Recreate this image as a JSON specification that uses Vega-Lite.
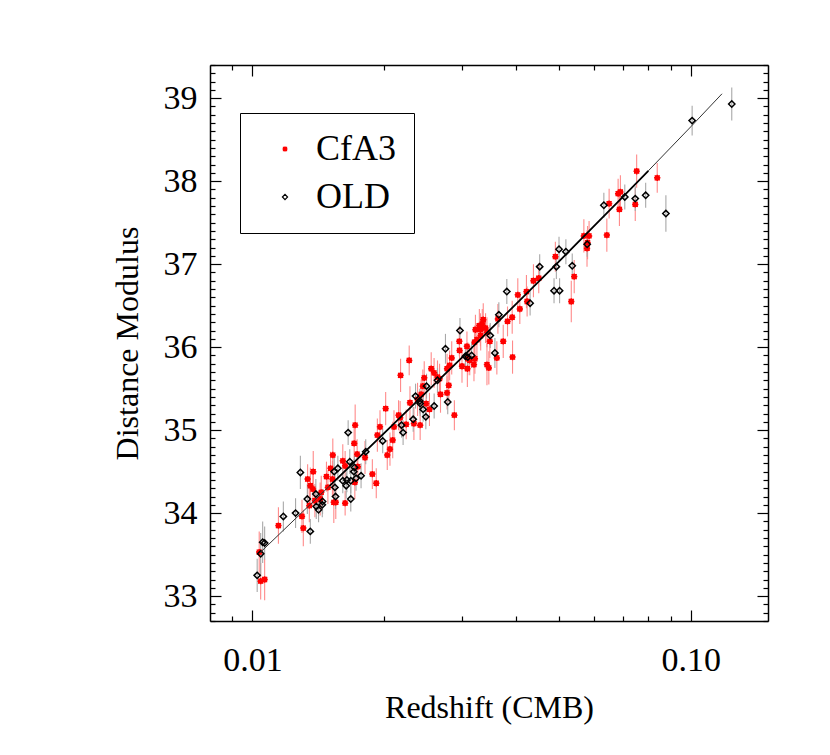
{
  "$schema": "https://vega.github.io/schema/vega-lite/v6.json",
  "width": 558,
  "height": 556,
  "autosize": {"type": "none"},
  "padding": {"left": 210, "top": 65, "right": 62, "bottom": 134},
  "background": "white",
  "config": {
    "font": "Liberation Serif",
    "view": {"stroke": null},
    "axis": {"grid": false, "domainColor": "#000000", "domainWidth": 1.5, "tickColor": "#000000", "tickWidth": 1.2, "labelColor": "#000000", "labelFont": "Liberation Serif", "labelFontSize": 34, "titleFont": "Liberation Serif", "titleFontSize": 32, "titleFontWeight": "normal", "titleColor": "#000000", "labelOverlap": false, "labelFlush": false},
    "legend": {"labelFont": "Liberation Serif"}
  },
  "datasets": {
    "sn": [
      {"series":"CfA3","z":0.01036,"mu":33.53,"err":0.25},{"series":"CfA3","z":0.01044,"mu":33.18,"err":0.22},{"series":"CfA3","z":0.01066,"mu":33.20,"err":0.25},{"series":"CfA3","z":0.01146,"mu":33.85,"err":0.22},{"series":"CfA3","z":0.01297,"mu":33.96,"err":0.2},{"series":"CfA3","z":0.01306,"mu":33.82,"err":0.22},{"series":"CfA3","z":0.01336,"mu":34.41,"err":0.18},{"series":"CfA3","z":0.01348,"mu":34.09,"err":0.2},{"series":"CfA3","z":0.01355,"mu":34.33,"err":0.22},{"series":"CfA3","z":0.01376,"mu":34.50,"err":0.25},{"series":"CfA3","z":0.01374,"mu":34.29,"err":0.2},{"series":"CfA3","z":0.01388,"mu":34.15,"err":0.2},{"series":"CfA3","z":0.01435,"mu":34.25,"err":0.2},{"series":"CfA3","z":0.01427,"mu":34.17,"err":0.2},{"series":"CfA3","z":0.01475,"mu":34.44,"err":0.18},{"series":"CfA3","z":0.01486,"mu":34.31,"err":0.2},{"series":"CfA3","z":0.01507,"mu":34.54,"err":0.2},{"series":"CfA3","z":0.01522,"mu":34.41,"err":0.22},{"series":"CfA3","z":0.01525,"mu":34.70,"err":0.2},{"series":"CfA3","z":0.01533,"mu":34.13,"err":0.25},{"series":"CfA3","z":0.01549,"mu":34.13,"err":0.2},{"series":"CfA3","z":0.01607,"mu":34.63,"err":0.2},{"series":"CfA3","z":0.01627,"mu":34.57,"err":0.18},{"series":"CfA3","z":0.01627,"mu":34.12,"err":0.15},{"series":"CfA3","z":0.01706,"mu":34.84,"err":0.2},{"series":"CfA3","z":0.01715,"mu":35.06,"err":0.25},{"series":"CfA3","z":0.01712,"mu":34.37,"err":0.2},{"series":"CfA3","z":0.01733,"mu":34.71,"err":0.18},{"series":"CfA3","z":0.01739,"mu":34.56,"err":0.18},{"series":"CfA3","z":0.01806,"mu":34.67,"err":0.2},{"series":"CfA3","z":0.01877,"mu":34.47,"err":0.18},{"series":"CfA3","z":0.01916,"mu":34.36,"err":0.18},{"series":"CfA3","z":0.01927,"mu":34.94,"err":0.2},{"series":"CfA3","z":0.01954,"mu":35.04,"err":0.2},{"series":"CfA3","z":0.02013,"mu":35.26,"err":0.2},{"series":"CfA3","z":0.02030,"mu":34.70,"err":0.18},{"series":"CfA3","z":0.02059,"mu":34.77,"err":0.2},{"series":"CfA3","z":0.02089,"mu":34.88,"err":0.22},{"series":"CfA3","z":0.02103,"mu":35.04,"err":0.2},{"series":"CfA3","z":0.02154,"mu":35.18,"err":0.18},{"series":"CfA3","z":0.02172,"mu":35.15,"err":0.2},{"series":"CfA3","z":0.02242,"mu":35.07,"err":0.18},{"series":"CfA3","z":0.02287,"mu":35.33,"err":0.2},{"series":"CfA3","z":0.02335,"mu":35.08,"err":0.2},{"series":"CfA3","z":0.02413,"mu":35.06,"err":0.18},{"series":"CfA3","z":0.02490,"mu":35.32,"err":0.2},{"series":"CfA3","z":0.02534,"mu":35.25,"err":0.2},
      {"series":"CfA3","z":0.02177,"mu":35.66,"err":0.2},{"series":"CfA3","z":0.02278,"mu":35.84,"err":0.18},{"series":"CfA3","z":0.02380,"mu":35.37,"err":0.2},{"series":"CfA3","z":0.02426,"mu":35.43,"err":0.18},{"series":"CfA3","z":0.02447,"mu":35.53,"err":0.2},{"series":"CfA3","z":0.02596,"mu":35.69,"err":0.18},{"series":"CfA3","z":0.02643,"mu":35.64,"err":0.2},{"series":"CfA3","z":0.02672,"mu":35.62,"err":0.18},{"series":"CfA3","z":0.02685,"mu":35.43,"err":0.22},{"series":"CfA3","z":0.02779,"mu":35.45,"err":0.2},{"series":"CfA3","z":0.02779,"mu":35.74,"err":0.18},{"series":"CfA3","z":0.02804,"mu":35.54,"err":0.2},{"series":"CfA3","z":0.02817,"mu":35.78,"err":0.18},{"series":"CfA3","z":0.02848,"mu":35.87,"err":0.2},{"series":"CfA3","z":0.02888,"mu":35.18,"err":0.18},{"series":"CfA3","z":0.02968,"mu":35.96,"err":0.2},{"series":"CfA3","z":0.02964,"mu":36.07,"err":0.18},{"series":"CfA3","z":0.03006,"mu":35.77,"err":0.2},{"series":"CfA3","z":0.03085,"mu":36.01,"err":0.18},{"series":"CfA3","z":0.03099,"mu":35.86,"err":0.2},{"series":"CfA3","z":0.03092,"mu":35.74,"err":0.22},{"series":"CfA3","z":0.03131,"mu":35.84,"err":0.18},{"series":"CfA3","z":0.03201,"mu":35.79,"err":0.2},{"series":"CfA3","z":0.03217,"mu":35.86,"err":0.18},{"series":"CfA3","z":0.03210,"mu":36.06,"err":0.2},{"series":"CfA3","z":0.03226,"mu":36.21,"err":0.18},{"series":"CfA3","z":0.03251,"mu":36.09,"err":0.2},{"series":"CfA3","z":0.03293,"mu":36.26,"err":0.2},{"series":"CfA3","z":0.03316,"mu":36.14,"err":0.18},{"series":"CfA3","z":0.03311,"mu":36.21,"err":0.2},{"series":"CfA3","z":0.03344,"mu":36.28,"err":0.18},{"series":"CfA3","z":0.03361,"mu":36.33,"err":0.2},{"series":"CfA3","z":0.03402,"mu":36.23,"err":0.18},{"series":"CfA3","z":0.03427,"mu":35.79,"err":0.25},{"series":"CfA3","z":0.03427,"mu":36.18,"err":0.18},{"series":"CfA3","z":0.03461,"mu":35.75,"err":0.2},{"series":"CfA3","z":0.03479,"mu":36.07,"err":0.2},{"series":"CfA3","z":0.03610,"mu":35.87,"err":0.2},{"series":"CfA3","z":0.03630,"mu":36.34,"err":0.18},{"series":"CfA3","z":0.03733,"mu":36.07,"err":0.2},{"series":"CfA3","z":0.03818,"mu":36.31,"err":0.18},{"series":"CfA3","z":0.03913,"mu":36.36,"err":0.2},{"series":"CfA3","z":0.03920,"mu":35.88,"err":0.2},{"series":"CfA3","z":0.04030,"mu":36.63,"err":0.2},{"series":"CfA3","z":0.04073,"mu":36.46,"err":0.18},{"series":"CfA3","z":0.04217,"mu":36.67,"err":0.2},{"series":"CfA3","z":0.04232,"mu":36.55,"err":0.18},{"series":"CfA3","z":0.04375,"mu":36.80,"err":0.2},{"series":"CfA3","z":0.04499,"mu":36.83,"err":0.18},{"series":"CfA3","z":0.04909,"mu":37.09,"err":0.18},{"series":"CfA3","z":0.05337,"mu":36.55,"err":0.25},{"series":"CfA3","z":0.05420,"mu":36.85,"err":0.2},{"series":"CfA3","z":0.02465,"mu":35.63,"err":0.2},{"series":"CfA3","z":0.02557,"mu":35.74,"err":0.2},
      {"series":"CfA3","z":0.05702,"mu":37.34,"err":0.2},{"series":"CfA3","z":0.05814,"mu":37.26,"err":0.2},{"series":"CfA3","z":0.05797,"mu":37.19,"err":0.22},{"series":"CfA3","z":0.05860,"mu":37.34,"err":0.18},{"series":"CfA3","z":0.06433,"mu":37.35,"err":0.2},{"series":"CfA3","z":0.06511,"mu":37.73,"err":0.18},{"series":"CfA3","z":0.06826,"mu":37.85,"err":0.18},{"series":"CfA3","z":0.06908,"mu":37.87,"err":0.2},{"series":"CfA3","z":0.06873,"mu":37.66,"err":0.2},{"series":"CfA3","z":0.07469,"mu":37.72,"err":0.2},{"series":"CfA3","z":0.07524,"mu":38.12,"err":0.2},{"series":"CfA3","z":0.08383,"mu":38.04,"err":0.18},
      {"series":"OLD","z":0.01025,"mu":33.25,"err":0.2},{"series":"OLD","z":0.01044,"mu":33.51,"err":0.25},{"series":"OLD","z":0.01055,"mu":33.65,"err":0.25},{"series":"OLD","z":0.01066,"mu":33.64,"err":0.2},{"series":"OLD","z":0.01176,"mu":33.96,"err":0.18},{"series":"OLD","z":0.01254,"mu":34.00,"err":0.18},{"series":"OLD","z":0.01286,"mu":34.49,"err":0.2},{"series":"OLD","z":0.01334,"mu":34.17,"err":0.18},{"series":"OLD","z":0.01355,"mu":33.78,"err":0.15},{"series":"OLD","z":0.01395,"mu":34.23,"err":0.18},{"series":"OLD","z":0.01398,"mu":34.08,"err":0.15},{"series":"OLD","z":0.01415,"mu":34.04,"err":0.15},{"series":"OLD","z":0.01443,"mu":34.10,"err":0.15},{"series":"OLD","z":0.01445,"mu":34.14,"err":0.15},{"series":"OLD","z":0.01536,"mu":34.50,"err":0.18},{"series":"OLD","z":0.01566,"mu":34.54,"err":0.15},{"series":"OLD","z":0.01547,"mu":34.20,"err":0.15},{"series":"OLD","z":0.01542,"mu":34.31,"err":0.15},{"series":"OLD","z":0.01607,"mu":34.39,"err":0.15},{"series":"OLD","z":0.01636,"mu":34.33,"err":0.15},{"series":"OLD","z":0.01642,"mu":34.40,"err":0.15},{"series":"OLD","z":0.01653,"mu":34.97,"err":0.15},{"series":"OLD","z":0.01667,"mu":34.62,"err":0.15},{"series":"OLD","z":0.01676,"mu":34.17,"err":0.15},{"series":"OLD","z":0.01676,"mu":34.39,"err":0.15},{"series":"OLD","z":0.01703,"mu":34.50,"err":0.15},{"series":"OLD","z":0.01709,"mu":34.55,"err":0.15},{"series":"OLD","z":0.01723,"mu":34.42,"err":0.15},{"series":"OLD","z":0.01769,"mu":34.45,"err":0.15},{"series":"OLD","z":0.01813,"mu":34.74,"err":0.15},{"series":"OLD","z":0.01982,"mu":34.87,"err":0.15},{"series":"OLD","z":0.02188,"mu":35.06,"err":0.15},{"series":"OLD","z":0.02206,"mu":34.97,"err":0.15},{"series":"OLD","z":0.02326,"mu":35.13,"err":0.15},{"series":"OLD","z":0.02486,"mu":35.16,"err":0.15},{"series":"OLD","z":0.02408,"mu":35.35,"err":0.15},{"series":"OLD","z":0.02597,"mu":35.29,"err":0.15},{"series":"OLD","z":0.02789,"mu":35.34,"err":0.15},{"series":"OLD","z":0.02355,"mu":35.41,"err":0.15},{"series":"OLD","z":0.02451,"mu":35.25,"err":0.15},{"series":"OLD","z":0.02413,"mu":35.32,"err":0.15},{"series":"OLD","z":0.02495,"mu":35.53,"err":0.15},{"series":"OLD","z":0.02643,"mu":35.60,"err":0.15},{"series":"OLD","z":0.02756,"mu":35.98,"err":0.18},{"series":"OLD","z":0.02974,"mu":36.20,"err":0.15},{"series":"OLD","z":0.03060,"mu":35.89,"err":0.15},{"series":"OLD","z":0.03099,"mu":35.88,"err":0.15},{"series":"OLD","z":0.03162,"mu":35.90,"err":0.15},{"series":"OLD","z":0.03487,"mu":36.14,"err":0.15},{"series":"OLD","z":0.03573,"mu":35.93,"err":0.18},{"series":"OLD","z":0.03648,"mu":36.39,"err":0.15},{"series":"OLD","z":0.03804,"mu":36.67,"err":0.15},{"series":"OLD","z":0.04299,"mu":36.53,"err":0.15},{"series":"OLD","z":0.04521,"mu":36.97,"err":0.15},{"series":"OLD","z":0.04875,"mu":36.68,"err":0.15},{"series":"OLD","z":0.05019,"mu":36.68,"err":0.15},{"series":"OLD","z":0.04935,"mu":36.97,"err":0.15},{"series":"OLD","z":0.05004,"mu":37.18,"err":0.15},{"series":"OLD","z":0.05364,"mu":36.98,"err":0.15},{"series":"OLD","z":0.05188,"mu":37.15,"err":0.15},{"series":"OLD","z":0.05802,"mu":37.24,"err":0.15},{"series":"OLD","z":0.06333,"mu":37.71,"err":0.15},{"series":"OLD","z":0.07069,"mu":37.81,"err":0.15},{"series":"OLD","z":0.07469,"mu":37.79,"err":0.15},{"series":"OLD","z":0.07889,"mu":37.83,"err":0.15},{"series":"OLD","z":0.08773,"mu":37.61,"err":0.22},{"series":"OLD","z":0.1007,"mu":38.73,"err":0.18},{"series":"OLD","z":0.1240,"mu":38.93,"err":0.2}
    ],
    "fit": [
      {"z":0.01039,"mu":33.52},{"z":0.015,"mu":34.329},{"z":0.02,"mu":34.967},{"z":0.03,"mu":35.872},{"z":0.05,"mu":37.031},{"z":0.07,"mu":37.811},{"z":0.08,"mu":38.125},{"z":0.1,"mu":38.656},{"z":0.1178,"mu":39.053}
    ]
  },
  "layer": [
    {
      "data": {"name": "sn"},
      "transform": [{"filter": "datum.series == 'CfA3'"}],
      "mark": {"type": "errorbar", "color": "#ff8a8a", "thickness": 1.1},
      "encoding": {
        "x": {"field": "z", "type": "quantitative", "scale": {"type": "log", "domain": [0.008, 0.15], "nice": false}, "axis": null},
        "y": {"field": "mu", "type": "quantitative", "scale": {"domain": [32.7, 39.4], "nice": false, "zero": false}, "axis": null},
        "yError": {"field": "err"}
      }
    },
    {
      "data": {"name": "sn"},
      "transform": [{"filter": "datum.series == 'OLD'"}],
      "mark": {"type": "errorbar", "color": "#a8a8a8", "thickness": 1.1},
      "encoding": {
        "x": {"field": "z", "type": "quantitative", "axis": null},
        "y": {"field": "mu", "type": "quantitative", "axis": null},
        "yError": {"field": "err"}
      }
    },
    {
      "data": {"name": "sn"},
      "mark": {"type": "point", "size": 40, "strokeWidth": 1.5, "opacity": 1},
      "encoding": {
        "x": {"field": "z", "type": "quantitative", "axis": null},
        "y": {"field": "mu", "type": "quantitative", "axis": null},
        "shape": {"field": "series", "type": "nominal", "scale": {"domain": ["CfA3", "OLD"], "range": ["M -1 0 L 1 0 M 0 -1 L 0 1 M -0.75 -0.75 L 0.75 0.75 M -0.75 0.75 L 0.75 -0.75 M -0.6 -0.6 L 0.6 -0.6 L 0.6 0.6 L -0.6 0.6 Z", "diamond"]}, "legend": {"title": null, "orient": "none", "legendX": 30, "legendY": 48, "direction": "vertical", "strokeColor": "#000000", "fillColor": "#ffffff", "padding": 18, "symbolOffset": 9, "labelOffset": 13, "rowPadding": 12, "labelFontSize": 36, "labelFont": "Liberation Serif", "symbolSize": 26, "symbolStrokeWidth": 1.2, "encode": {"labels": {"update": {"fill": {"signal": "datum.value === 'CfA3' ? '#ff0000' : '#000000'"}, "font": {"value": "Liberation Serif"}}}, "legend": {"update": {"strokeWidth": {"value": 1.5}}}}}},
        "fill": {"field": "series", "type": "nominal", "scale": {"domain": ["CfA3", "OLD"], "range": ["#ff0000", "transparent"]}, "legend": {"title": null, "orient": "none", "legendX": 30, "legendY": 48, "direction": "vertical", "strokeColor": "#000000", "fillColor": "#ffffff", "padding": 18, "symbolOffset": 9, "labelOffset": 13, "rowPadding": 12, "labelFontSize": 36, "labelFont": "Liberation Serif", "symbolSize": 26, "symbolStrokeWidth": 1.2, "encode": {"labels": {"update": {"fill": {"signal": "datum.value === 'CfA3' ? '#ff0000' : '#000000'"}, "font": {"value": "Liberation Serif"}}}, "legend": {"update": {"strokeWidth": {"value": 1.5}}}}}},
        "stroke": {"field": "series", "type": "nominal", "scale": {"domain": ["CfA3", "OLD"], "range": ["#ff0000", "#000000"]}, "legend": {"title": null, "orient": "none", "legendX": 30, "legendY": 48, "direction": "vertical", "strokeColor": "#000000", "fillColor": "#ffffff", "padding": 18, "symbolOffset": 9, "labelOffset": 13, "rowPadding": 12, "labelFontSize": 36, "labelFont": "Liberation Serif", "symbolSize": 26, "symbolStrokeWidth": 1.2, "encode": {"labels": {"update": {"fill": {"signal": "datum.value === 'CfA3' ? '#ff0000' : '#000000'"}, "font": {"value": "Liberation Serif"}}}, "legend": {"update": {"strokeWidth": {"value": 1.5}}}}}}
      }
    },
    {
      "data": {"name": "fit"},
      "mark": {"type": "line", "color": "#333333", "strokeWidth": 1},
      "encoding": {
        "x": {"field": "z", "type": "quantitative", "axis": {"orient": "bottom", "values": [0.009, 0.01, 0.02, 0.03, 0.04, 0.05, 0.06, 0.07, 0.08, 0.09, 0.1], "tickSize": {"condition": {"test": "datum.value == 0.01 || datum.value == 0.1", "value": -11}, "value": -5}, "labelExpr": "datum.value == 0.01 ? '0.01' : (datum.value == 0.1 ? '0.10' : '')", "labelFont": "Liberation Serif", "labelPadding": 33, "title": "Redshift (CMB)", "titlePadding": 9}},
        "y": {"field": "mu", "type": "quantitative", "axis": {"orient": "left", "values": [32.7,32.8,32.9,33,33.1,33.2,33.3,33.4,33.5,33.6,33.7,33.8,33.9,34,34.1,34.2,34.3,34.4,34.5,34.6,34.7,34.8,34.9,35,35.1,35.2,35.3,35.4,35.5,35.6,35.7,35.8,35.9,36,36.1,36.2,36.3,36.4,36.5,36.6,36.7,36.8,36.9,37,37.1,37.2,37.3,37.4,37.5,37.6,37.7,37.8,37.9,38,38.1,38.2,38.3,38.4,38.5,38.6,38.7,38.8,38.9,39,39.1,39.2,39.3,39.4], "tickSize": {"condition": {"test": "abs(datum.value - round(datum.value)) < 0.01", "value": -11}, "value": -5}, "labelExpr": "abs(datum.value - round(datum.value)) < 0.01 ? format(datum.value, 'd') : ''", "labelFont": "Liberation Serif", "labelPadding": 24, "title": "Distance Modulus", "titlePadding": 19}}
      }
    },
    {
      "data": {"name": "fit"},
      "transform": [{"filter": "datum.z >= 0.015 && datum.z <= 0.08"}],
      "mark": {"type": "line", "color": "#000000", "strokeWidth": 1.8},
      "encoding": {
        "x": {"field": "z", "type": "quantitative", "axis": {"orient": "top", "values": [0.009, 0.01, 0.02, 0.03, 0.04, 0.05, 0.06, 0.07, 0.08, 0.09, 0.1], "tickSize": {"condition": {"test": "datum.value == 0.01 || datum.value == 0.1", "value": -11}, "value": -5}, "labels": false, "title": null}},
        "y": {"field": "mu", "type": "quantitative", "axis": {"orient": "right", "values": [32.7,32.8,32.9,33,33.1,33.2,33.3,33.4,33.5,33.6,33.7,33.8,33.9,34,34.1,34.2,34.3,34.4,34.5,34.6,34.7,34.8,34.9,35,35.1,35.2,35.3,35.4,35.5,35.6,35.7,35.8,35.9,36,36.1,36.2,36.3,36.4,36.5,36.6,36.7,36.8,36.9,37,37.1,37.2,37.3,37.4,37.5,37.6,37.7,37.8,37.9,38,38.1,38.2,38.3,38.4,38.5,38.6,38.7,38.8,38.9,39,39.1,39.2,39.3,39.4], "tickSize": {"condition": {"test": "abs(datum.value - round(datum.value)) < 0.01", "value": -11}, "value": -5}, "labels": false, "title": null}}
      }
    }
  ],
  "resolve": {"axis": {"x": "independent", "y": "independent"}}
}
